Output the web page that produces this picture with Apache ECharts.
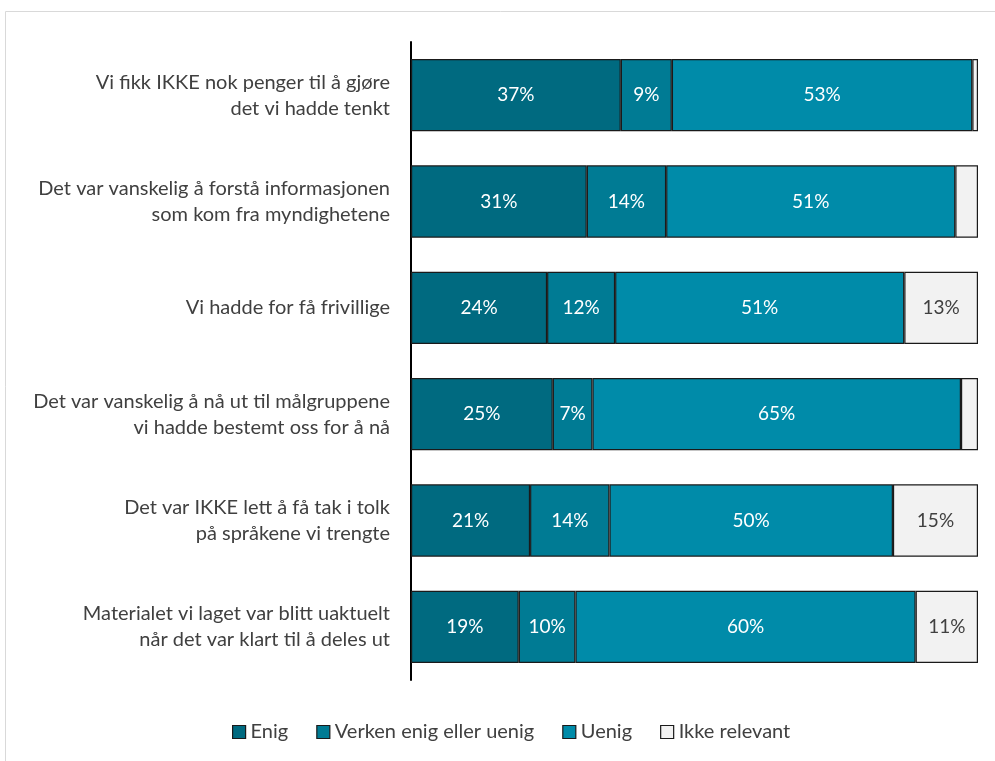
<!DOCTYPE html>
<html>
<head>
<meta charset="utf-8">
<script src="https://cdn.jsdelivr.net/npm/echarts@6/dist/echarts.min.js"></script>
<style>
  html, body { margin: 0; padding: 0; background: #fff; }
  #main { width: 995px; height: 761px; }
</style>
</head>
<body>
<div id="main"></div>
<script>
// kategorier (ovenfra og ned)
var categories = [
    "Vi fikk IKKE nok penger til å gjøre\ndet vi hadde tenkt",
    "Det var vanskelig å forstå informasjonen\nsom kom fra myndighetene",
    "Vi hadde for få frivillige",
    "Det var vanskelig å nå ut til målgruppene\nvi hadde bestemt oss for å nå",
    "Det var IKKE lett å få tak i tolk\npå språkene vi trengte",
    "Materialet vi laget var blitt uaktuelt\nnår det var klart til å deles ut"
];
var seriesNames = ["Enig", "Verken enig eller uenig", "Uenig", "Ikke relevant"];
var enig = [37, 31, 24, 25, 21, 19];
var verken = [9, 14, 12, 7, 14, 10];
var uenig = [53, 51, 51, 65, 50, 60];
var ikkeRelevant = [1, 4, 13, 3, 15, 11];

var colors = ["#006a80", "#007b94", "#008ba9", "#f2f2f2"];
var labelColors = ["#ffffff", "#ffffff", "#ffffff", "#404040"];
var fontName = "Lato, 'Noto Sans', sans-serif";

var chart = echarts.init(document.getElementById("main"));

function makeSeries(name, data, idx) {
    return {
        name: name,
        type: "bar",
        stack: "total",
        barCategoryGap: "32%",
        data: data,
        itemStyle: {
            color: colors[idx],
            borderColor: "#1a1a1a",
            borderWidth: 1.2
        },
        label: {
            show: true,
            position: "inside",
            color: labelColors[idx],
            fontSize: 19,
            fontFamily: fontName,
            formatter: function (p) {
                return p.value >= 5 ? p.value + "%" : "";
            }
        },
        emphasis: { disabled: true }
    };
}

var option = {
    animation: false,
    color: colors,
    graphic: [{
        type: "rect",
        shape: { x: 5.5, y: 11.5, width: 1000, height: 800 },
        style: { fill: "none", stroke: "#d9d9d9", lineWidth: 1 },
        silent: true
    }],
    grid: {
        left: 411,
        right: 17,
        top: 42,
        bottom: 81,
        containLabel: false
    },
    legend: {
        data: seriesNames,
        bottom: 14,
        left: 227,
        icon: "rect",
        itemWidth: 13,
        itemHeight: 13,
        itemGap: 28,
        selectedMode: false,
        textStyle: {
            color: "#404040",
            fontSize: 20,
            fontFamily: fontName
        },
        itemStyle: {
            borderColor: "#1a1a1a",
            borderWidth: 1.2
        }
    },
    xAxis: {
        type: "value",
        min: 0,
        max: 100,
        show: false
    },
    yAxis: {
        type: "category",
        data: categories,
        inverse: true,
        axisLine: { show: true, lineStyle: { color: "#000", width: 2 } },
        axisTick: { show: false },
        axisLabel: {
            color: "#404040",
            fontSize: 20,
            fontFamily: fontName,
            lineHeight: 26,
            margin: 21,
            align: "right"
        }
    },
    series: [
        makeSeries(seriesNames[0], enig, 0),
        makeSeries(seriesNames[1], verken, 1),
        makeSeries(seriesNames[2], uenig, 2),
        makeSeries(seriesNames[3], ikkeRelevant, 3)
    ]
};

chart.setOption(option);
</script>
</body>
</html>
